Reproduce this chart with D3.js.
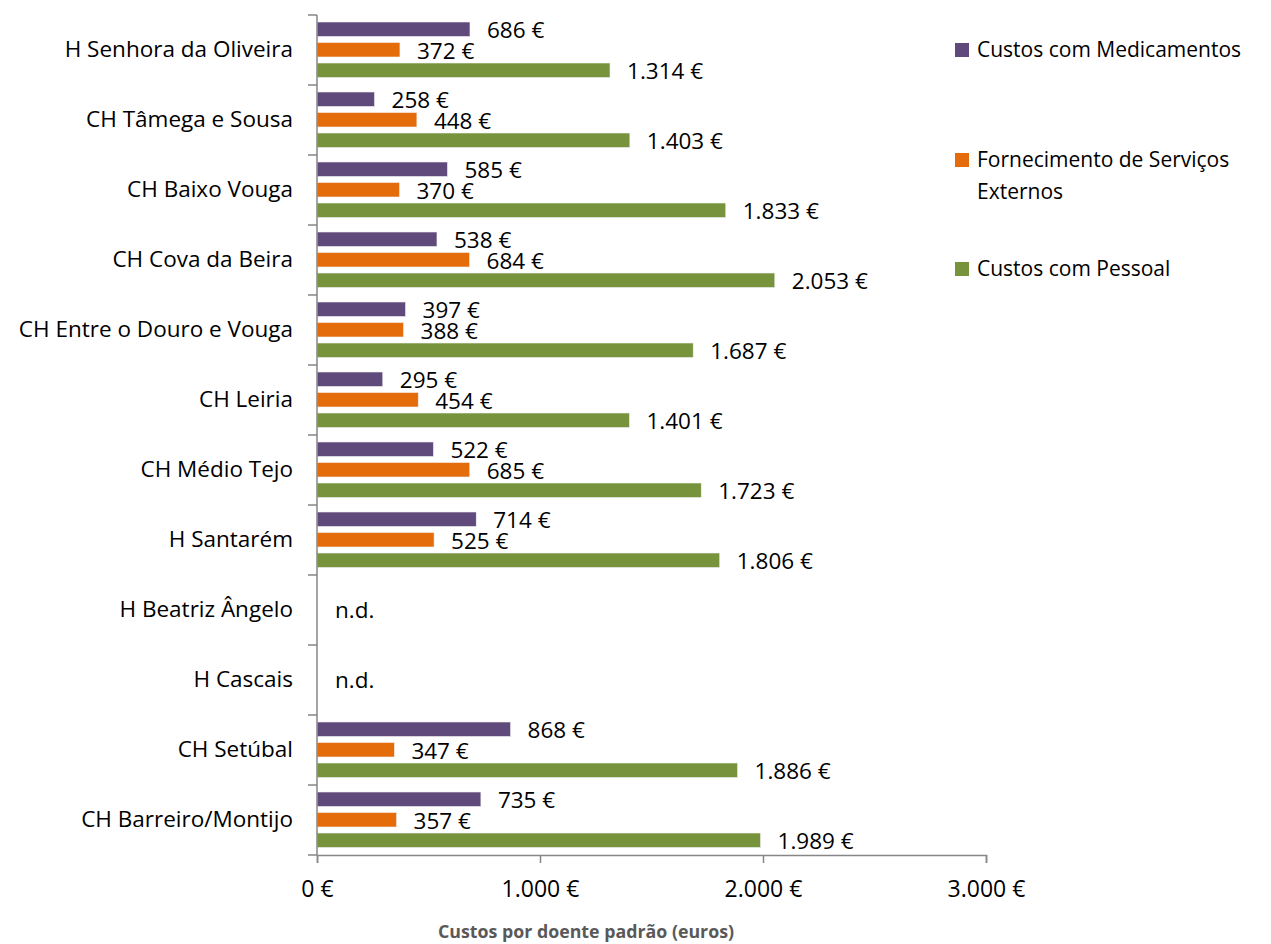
<!DOCTYPE html>
<html>
<head>
<meta charset="utf-8">
<script src="https://cdn.jsdelivr.net/npm/d3@7"></script>
<style>
  html, body { margin: 0; padding: 0; background: #fff; }
  text { font-family: "Open Sans", "Noto Sans", sans-serif; }
</style>
</head>
<body>
<svg id="chart" width="1271" height="944"></svg>
<script>
const categories = [
  "H Senhora da Oliveira", "CH Tâmega e Sousa", "CH Baixo Vouga", "CH Cova da Beira",
  "CH Entre o Douro e Vouga", "CH Leiria", "CH Médio Tejo", "H Santarém",
  "H Beatriz Ângelo", "H Cascais", "CH Setúbal", "CH Barreiro/Montijo"
];
const seriesNames = ["Custos com Medicamentos", "Fornecimento de Serviços Externos", "Custos com Pessoal"];
const medicamentos = [686, 258, 585, 538, 397, 295, 522, 714, null, null, 868, 735];
const fse          = [372, 448, 370, 684, 388, 454, 685, 525, null, null, 347, 357];
const pessoal      = [1314, 1403, 1833, 2053, 1687, 1401, 1723, 1806, null, null, 1886, 1989];
const xTicks = [0, 1000, 2000, 3000];
const colors = ["#604A7B", "#E46C0A", "#77933C"];
const axisTitle = "Custos por doente padrão (euros)";
const missingLabel = "n.d.";

const seriesValues = [medicamentos, fse, pessoal];
const locale = d3.formatLocale({decimal: ",", thousands: ".", grouping: [3], currency: ["", " €"]});
const fmt = locale.format("$,.0f");

const svg = d3.select("#chart");
const mLeft = 317, mRight = 986, mTop = 15, mBottom = 855;

const x = d3.scaleLinear().domain([0, 3000]).range([mLeft, mRight]);
const y = d3.scaleBand().domain(categories).range([mTop, mBottom]);
const y1 = d3.scaleBand().domain(d3.range(3)).range([7, 62.5]).paddingInner(0.293).paddingOuter(0);

const valueSize = 22.5;
const catSize = 22.5;
const legendSize = 21;

// bars
categories.forEach((cat, i) => {
  const g = svg.append("g").attr("transform", `translate(0,${y(cat)})`);
  const has = seriesValues.some(s => s[i] != null);
  if (!has) {
    g.append("text")
      .attr("x", x(0) + 18)
      .attr("y", y.bandwidth() / 2)
      .attr("dy", "0.35em")
      .attr("font-size", valueSize)
      .attr("fill", "#000")
      .text(missingLabel);
    return;
  }
  seriesValues.forEach((s, k) => {
    const v = s[i];
    if (v == null) return;
    g.append("rect")
      .attr("x", x(0))
      .attr("y", y1(k))
      .attr("width", x(v) - x(0))
      .attr("height", y1.bandwidth())
      .attr("fill", colors[k])
      .attr("stroke", "#f2f2f2")
      .attr("stroke-width", 0.6);
    g.append("text")
      .attr("x", x(v) + 17)
      .attr("y", y1(k) + y1.bandwidth() / 2 + 1)
      .attr("dy", "0.35em")
      .attr("font-size", valueSize)
      .attr("fill", "#000")
      .text(fmt(v));
  });
});

// y axis
const yAxisG = svg.append("g").attr("transform", `translate(${mLeft},0)`)
  .call(d3.axisLeft(y).tickSize(0).tickPadding(24));
yAxisG.select(".domain").remove();
yAxisG.selectAll("text").attr("font-size", catSize).attr("fill", "#000")
  .style("font-family", '"Open Sans", sans-serif');
svg.append("line")
  .attr("x1", mLeft).attr("x2", mLeft).attr("y1", mTop).attr("y2", mBottom)
  .attr("stroke", "#868686").attr("stroke-width", 1.5);
const bounds = categories.map(c => y(c)).concat([y.range()[1]]);
svg.selectAll(".ybound").data(bounds).enter().append("line")
  .attr("x1", mLeft - 9).attr("x2", mLeft).attr("y1", d => d).attr("y2", d => d)
  .attr("stroke", "#868686").attr("stroke-width", 1.5);

// x axis
const xAxisG = svg.append("g").attr("transform", `translate(0,${mBottom})`)
  .call(d3.axisBottom(x).tickValues(xTicks).tickSize(8).tickPadding(18).tickFormat(fmt));
xAxisG.select(".domain").attr("stroke", "#868686").attr("stroke-width", 1.5);
xAxisG.selectAll(".tick line").attr("stroke", "#868686").attr("stroke-width", 1.5);
xAxisG.selectAll("text").attr("font-size", 23).attr("fill", "#000")
  .style("font-family", '"Open Sans", sans-serif');

// axis title
svg.append("text")
  .attr("x", 586).attr("y", 938)
  .attr("text-anchor", "middle")
  .attr("font-size", 17.8).attr("font-weight", "bold").attr("fill", "#595959")
  .text(axisTitle);

// legend
const legendItems = [
  {lines: ["Custos com Medicamentos"], cy: 50},
  {lines: ["Fornecimento de Serviços", "Externos"], cy: 160},
  {lines: ["Custos com Pessoal"], cy: 269}
];
legendItems.forEach((it, k) => {
  svg.append("rect").attr("x", 955).attr("y", it.cy - 7).attr("width", 14).attr("height", 14)
    .attr("fill", colors[k]);
  it.lines.forEach((ln, j) => {
    svg.append("text").attr("x", 977).attr("y", it.cy + j * 32).attr("dy", "0.35em")
      .attr("font-size", legendSize).attr("fill", "#000").text(ln);
  });
});
</script>
</body>
</html>
